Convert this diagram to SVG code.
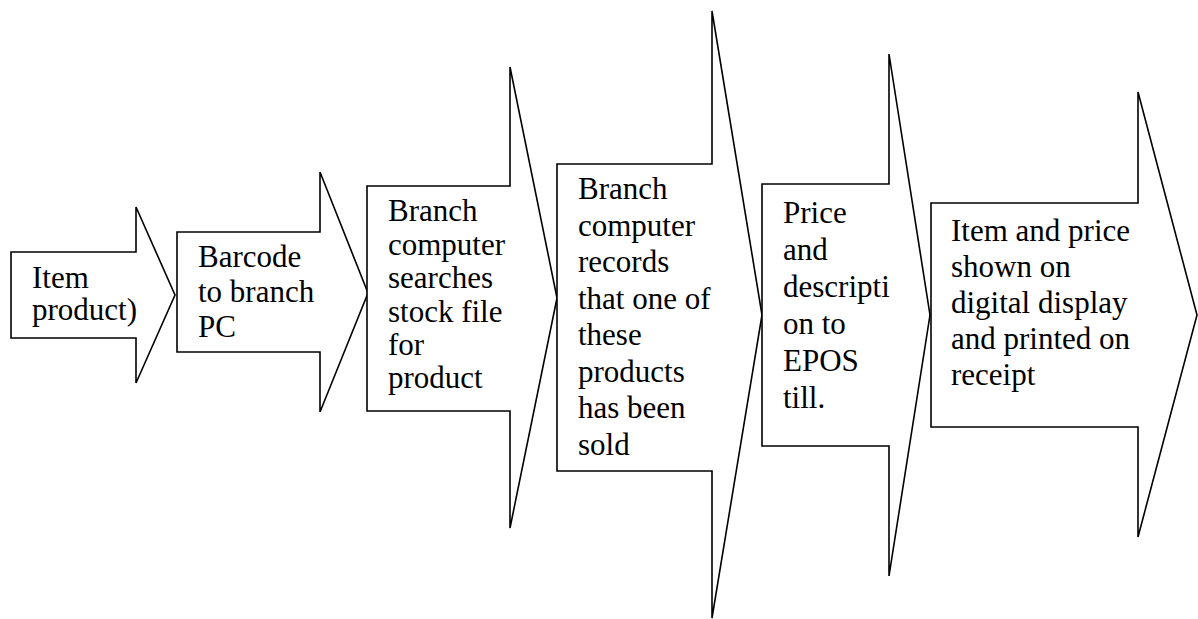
<svg xmlns="http://www.w3.org/2000/svg" width="1198" height="619" viewBox="0 0 1198 619">
<style>
.arr{fill:#fff;stroke:#000;stroke-width:1.6;stroke-linejoin:miter}
text{font-family:"Liberation Serif","Times New Roman",serif;font-size:31px;fill:#000}
</style>
<rect width="1198" height="619" fill="#fff"/>
<g id="connectors"></g>
<g id="node1">
<polygon class="arr" points="11,252 136,252 136,207 175,295 136,383 136,338 11,338"/>
<text x="32" y="288">Item</text>
<text x="32" y="320">product)</text>
</g>
<g id="node2">
<polygon class="arr" points="177,232 320,232 320,172 368,293 320,412 320,352 177,352"/>
<text x="198" y="267">Barcode</text>
<text x="198" y="302">to branch</text>
<text x="198" y="337">PC</text>
</g>
<g id="node3">
<polygon class="arr" points="367,186 510,186 510,67 557,298 510,528 510,411 367,411"/>
<text x="388" y="221">Branch</text>
<text x="388" y="254.5">computer</text>
<text x="388" y="288">searches</text>
<text x="388" y="321.5">stock file</text>
<text x="388" y="355">for</text>
<text x="388" y="388">product</text>
</g>
<g id="node4">
<polygon class="arr" points="557,164 712,164 712,11 762,315 712,618 712,471 557,471"/>
<text x="578" y="199">Branch</text>
<text x="578" y="235.5">computer</text>
<text x="578" y="272">records</text>
<text x="578" y="308.5">that one of</text>
<text x="578" y="345">these</text>
<text x="578" y="381.5">products</text>
<text x="578" y="418">has been</text>
<text x="578" y="454.5">sold</text>
</g>
<g id="node5">
<polygon class="arr" points="762,184 889,184 889,54 930,315 889,576 889,446 762,446"/>
<text x="783" y="223">Price</text>
<text x="783" y="260">and</text>
<text x="783" y="297">descripti</text>
<text x="783" y="334">on to</text>
<text x="783" y="371">EPOS</text>
<text x="783" y="408">till.</text>
</g>
<g id="node6">
<polygon class="arr" points="931,203 1138,203 1138,92 1197,315 1138,537 1138,427 931,427"/>
<text x="951" y="241">Item and price</text>
<text x="951" y="277">shown on</text>
<text x="951" y="313">digital display</text>
<text x="951" y="349">and printed on</text>
<text x="951" y="385">receipt</text>
</g>
</svg>
